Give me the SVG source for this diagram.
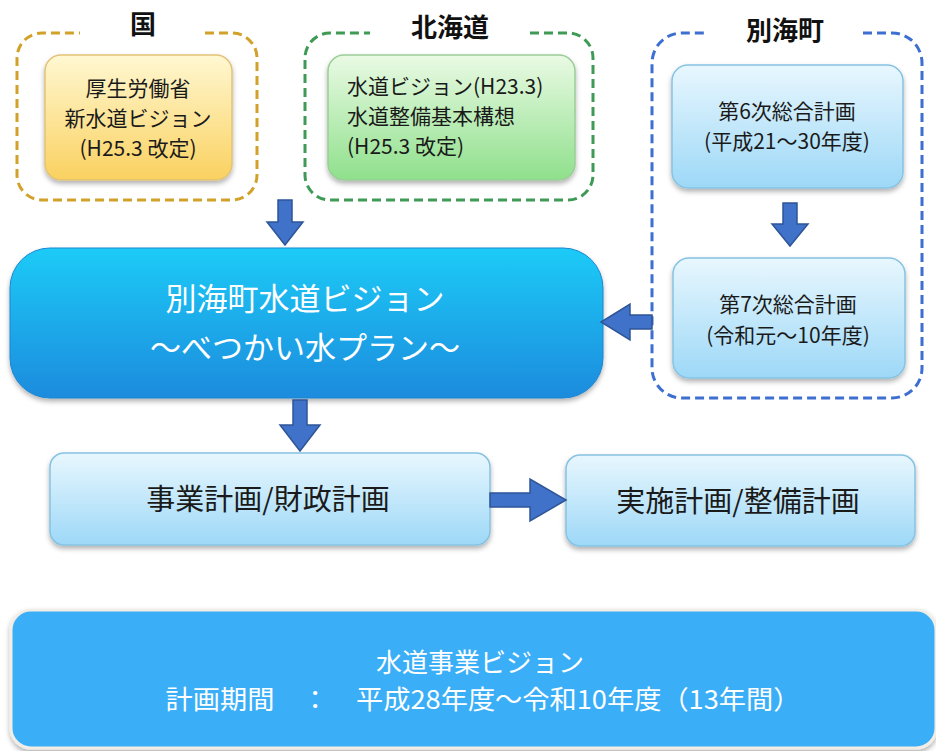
<svg xmlns="http://www.w3.org/2000/svg" width="936" height="751" viewBox="0 0 936 751">
<defs>
<linearGradient id="gY" x1="0" y1="0" x2="0" y2="1"><stop offset="0" stop-color="#FFF8D2"/><stop offset="1" stop-color="#FAD160"/></linearGradient>
<linearGradient id="gG" x1="0" y1="0" x2="0" y2="1"><stop offset="0" stop-color="#EAFAE4"/><stop offset="1" stop-color="#8FE08C"/></linearGradient>
<linearGradient id="gB" x1="0" y1="0" x2="0" y2="1"><stop offset="0" stop-color="#E8F7FE"/><stop offset="1" stop-color="#9DD8F7"/></linearGradient>
<linearGradient id="gM" x1="0" y1="0" x2="0" y2="1"><stop offset="0" stop-color="#1FCBF7"/><stop offset="1" stop-color="#1A8BDD"/></linearGradient>
<filter id="sh" x="-10%" y="-10%" width="120%" height="130%"><feDropShadow dx="0" dy="3" stdDeviation="2.5" flood-color="#000" flood-opacity="0.3"/></filter>
</defs>
<style>
.grp{fill:none;stroke-width:3;stroke-dasharray:9 5;stroke-linecap:butt}
.ttl{font-family:"Noto Sans CJK JP","Noto Sans",sans-serif;font-weight:bold;font-size:26px;fill:#111;text-anchor:middle}
.t{font-family:"Noto Sans CJK JP","Noto Sans",sans-serif;font-size:21px;fill:#1a1a1a}
.tc{text-anchor:middle}
.big{font-family:"Noto Sans CJK JP","Noto Sans",sans-serif;font-size:29px;fill:#1a1a1a;text-anchor:middle}
.wt{font-family:"Noto Sans CJK JP","Noto Sans",sans-serif;fill:#fff;text-anchor:middle}
.arr{fill:#3F72C8;stroke:#2E5597;stroke-width:1.5}
.lb{fill:url(#gB);stroke:#86C2E2;stroke-width:1.5}
</style>
<rect width="936" height="751" fill="#fff"/>

<g id="kuni">
<path class="grp" stroke="#D1A12A" d="M205,33 H232 A25,25 0 0 1 257,58 V175 A25,25 0 0 1 232,200 H42 A25,25 0 0 1 17,175 V58 A25,25 0 0 1 42,33 H80"/>
<text class="ttl" x="143" y="34">国</text>
<rect x="45" y="55" width="187" height="125" rx="16" fill="url(#gY)" stroke="#E2C277" stroke-width="1.5" filter="url(#sh)"/>
<text class="t tc" x="138" y="96">厚生労働省</text>
<text class="t tc" x="138" y="126">新水道ビジョン</text>
<text class="t tc" x="138" y="156">(H25.3 改定)</text>
</g>

<g id="hokkaido">
<path class="grp" stroke="#3E9A55" d="M530,33 H568 A25,25 0 0 1 593,58 V175 A25,25 0 0 1 568,200 H330 A25,25 0 0 1 305,175 V58 A25,25 0 0 1 330,33 H370"/>
<text class="ttl" x="450" y="37">北海道</text>
<rect x="328" y="55" width="247" height="125" rx="16" fill="url(#gG)" stroke="#9ACD98" stroke-width="1.5" filter="url(#sh)"/>
<text class="t" x="347" y="94">水道ビジョン(H23.3)</text>
<text class="t" x="347" y="124">水道整備基本構想</text>
<text class="t" x="347" y="154">(H25.3 改定)</text>
</g>

<g id="betsukai">
<path class="grp" stroke="#3D6FD0" d="M863,33 H892 A30,30 0 0 1 922,63 V368 A30,30 0 0 1 892,398 H682 A30,30 0 0 1 652,368 V63 A30,30 0 0 1 682,33 H707"/>
<text class="ttl" x="785" y="40">別海町</text>
<rect id="plan6" class="lb" x="672" y="65" width="231" height="123" rx="16" filter="url(#sh)"/>
<text class="t tc" x="787" y="119">第6次総合計画</text>
<text class="t tc" x="787" y="149">(平成21～30年度)</text>
<rect id="plan7" class="lb" x="673" y="258" width="232" height="120" rx="16" filter="url(#sh)"/>
<text class="t tc" x="788" y="312">第7次総合計画</text>
<text class="t tc" x="788" y="343">(令和元～10年度)</text>
</g>

<g id="main">
<rect x="10" y="248" width="593" height="150" rx="40" fill="url(#gM)" stroke="#1A86D0" stroke-width="1" filter="url(#sh)"/>
<text class="wt" x="305" y="310" font-size="31">別海町水道ビジョン</text>
<text class="wt" x="305" y="359" font-size="31">～べつかい水プラン～</text>
</g>

<g id="jigyo">
<rect class="lb" x="50" y="453" width="440" height="92" rx="14" filter="url(#sh)"/>
<text class="big" x="268" y="510">事業計画/財政計画</text>
</g>

<g id="jisshi">
<rect class="lb" x="566" y="455" width="349" height="91" rx="14" filter="url(#sh)"/>
<text class="big" x="738" y="512">実施計画/整備計画</text>
</g>

<g id="vision">
<rect x="11" y="610" width="925" height="138" rx="20" fill="#3AAEF8" stroke="#F2EDE6" stroke-width="3" filter="url(#sh)"/>
<text class="wt" x="480" y="672" font-size="26">水道事業ビジョン</text>
<text class="wt" x="483" y="709" font-size="26" textLength="635" lengthAdjust="spacingAndGlyphs">計画期間　：　平成28年度～令和10年度（13年間）</text>
</g>

<g id="connectors">
<path class="arr" d="M278,200 H292 V222 H303 L285,245 L267,222 H278 Z"/>
<path class="arr" d="M783,203 H797 V224 H808 L790,246 L772,224 H783 Z"/>
<path class="arr" d="M652,315 H630 V304 L601,322 L630,340 V329 H652 Z"/>
<path class="arr" d="M293,400 H307 V425 H320 L300,451 L280,425 H293 Z"/>
<path class="arr" d="M490,493 H530 V479 L566,500 L530,521 V507 H490 Z"/>
</g>
</svg>
